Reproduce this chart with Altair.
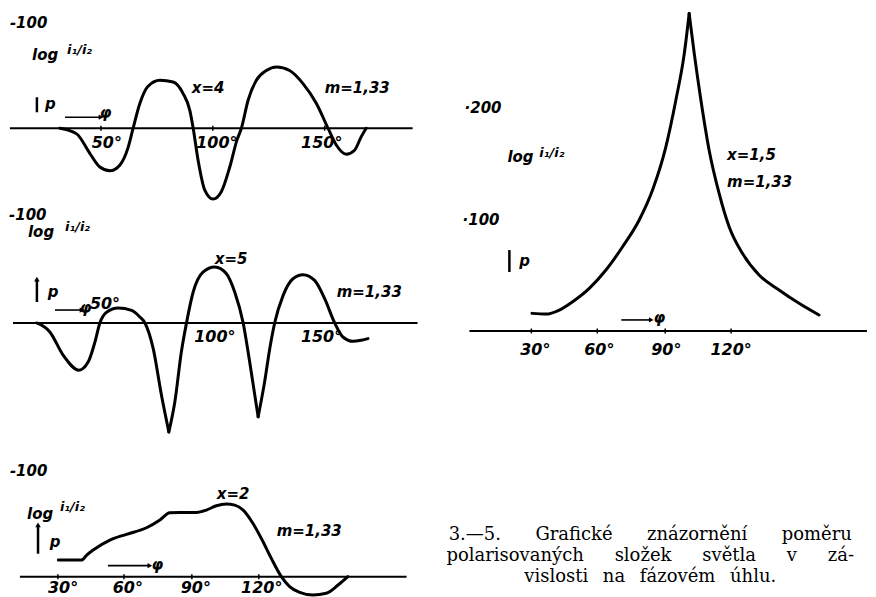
import altair as alt
import pandas as pd

SANS = "DejaVu Sans"
SERIF = "DejaVu Serif"

# ---------------- curve data (phase angle in degrees, log i1/i2 scaled) -------------
# x = 4, m = 1,33
x4_deg = [31.3, 38.8, 44.7, 49.2, 53.7, 58.2, 61.9, 64.1, 67.1, 70.8, 76.1, 82.0, 86.5,
          89.5, 91.0, 93.2, 96.2, 99.9, 103.6, 107.4, 110.6, 112.6, 115.6, 119.3, 123.8,
          128.3, 134.2, 140.2, 146.2, 151.4, 155.1, 159.6, 163.3, 166.3, 168.5]
x4_val = [0, -5.4, -24, -37, -40.6, -35, -18, 0, 23.5, 40, 45.7, 44, 33,
          17, 0, -30.5, -59, -67.6, -60.6, -37, -11.4, 0, 26.7, 45.7, 55,
          58.4, 55, 42.5, 23.5, 0, -16, -24.8, -21, -8, 0]
x4_seg = [0] * 35

# x = 5, m = 1,33 (three strokes meeting at the sharp minima)
x5_deg = [20.9, 26.8, 32.8, 39.8, 44.0, 47.0, 49.2, 52.2, 57.4, 63.4, 67.1, 69.4, 73.1, 76.8, 80.1,
          80.1, 82.8, 85.7, 88.0, 91.0, 95.4, 100.7, 105.9, 109.6, 113.4, 116.3, 120.1,
          120.1, 123.0, 125.3, 127.5, 131.3, 135.7, 140.2, 145.4, 149.9, 154.4, 158.1, 162.6, 166.3, 169.3]
x5_val = [0, -8.3, -30, -43.8, -36, -17.6, 0, 10, 13.9, 11.7, 5.6, 0, -23.8, -67, -101,
          -101, -73, -26.9, 0, 28.7, 47.2, 51.9, 45.7, 28.7, 0, -36, -87,
          -87, -54.6, -23.8, 0, 25.6, 41, 44.8, 39.5, 22.5, 0, -13, -17, -16, -14.5]
x5_seg = [0] * 15 + [1] * 12 + [2] * 14

# x = 2, m = 1,33
x2_deg = [30.6, 41.0, 43.3, 46.2, 53.7, 61.1, 70.1, 76.1, 80.5, 85.0, 92.5, 96.9, 101.4,
          105.9, 109.6, 113.4, 117.8, 122.3, 126.0, 130.5, 134.2, 138.7, 144.7, 150.6, 155.9, 160.3]
x2_val = [15.7, 15.7, 20.4, 25.2, 34.6, 40, 46.2, 53.5, 60.4, 60.7, 60.7, 62.9, 67,
          68.6, 67.6, 62.9, 50.3, 33, 17.3, 0, -9.4, -14.8, -17.3, -15.7, -7.9, 0]
x2_seg = [0] * 26

# x = 1,5, m = 1,33 (two strokes meeting at the cusp)
x15_deg = [30.3, 36.6, 42.6, 48.6, 56.1, 63.6, 71.1, 78.6, 84.6, 90.6, 95.1, 98.9, 101.1,
           101.1, 103.4, 106.4, 110.1, 114.6, 119.1, 125.1, 132.6, 141.6, 150.6, 159.6]
x15_val = [15.8, 15.2, 18.8, 26.3, 38.3, 54.7, 75.6, 99.6, 126.5, 165.3, 207.2, 249, 285,
           285, 249, 207.2, 162.3, 123.5, 93.6, 69.7, 50.2, 36.8, 24.8, 14.3]
x15_seg = [0] * 13 + [1] * 11

# ---------------- tick labels ----------------
p1_ticks = [49.7, 99.8, 149.9]
p1_lab_deg = [52.3, 101.6, 148.6]
p1_lab_val = [-14.3, -14.3, -14.3]
p1_labels = ["50°", "100°", "150°"]

p2_lab_deg = [51.5, 100.7, 148.5]
p2_lab_val = [17.6, -13, -13]
p2_labels = ["50°", "100°", "150°"]

p3_ticks = [30.4, 60.0, 90.4, 120.4]
p3_lab_deg = [32.7, 61.7, 92.2, 121.7]
p3_lab_val = [-10.6, -10.6, -10.6, -10.6]
p3_labels = ["30°", "60°", "90°", "120°"]

p4_ticks = [30.0, 59.7, 90.3, 120.0]
p4_lab_deg = [31.8, 60.6, 90.8, 120.0]
p4_lab_val = [-17, -17, -17, -17]
p4_labels = ["30°", "60°", "90°", "120°"]

# ---------------- annotations ----------------
p1_notes = ["-100", "log", "x=4", "m=1,33", "p"]
p1_note_deg = [8.9, 18.8, 90.4, 149.9, 24.6]
p1_note_val = [100, 69.5, 38, 38, 22.9]

p2_notes = ["-100", "log", "x=5", "m=1,33", "p"]
p2_note_deg = [8.5, 17.0, 100.7, 155.3, 25.9]
p2_note_val = [100, 84.3, 59.3, 28.7, 28.7]

p3_notes = ["-100", "log", "x=2", "m=1,33", "p"]
p3_note_deg = [8.9, 16.6, 101.6, 128.4, 26.8]
p3_note_val = [100, 59.4, 78.3, 43.4, 33]

p4_notes = ["·200", "·100", "log", "x=1,5", "m=1,33", "p"]
p4_note_deg = [-0.1, -1.0, 19.2, 118.2, 118.2, 24.6]
p4_note_val = [200, 99.6, 156, 157.8, 133.6, 62.8]

ratio = "i₁/i₂"
p1_ratio = (34.5, 74.3)
p2_ratio = (33.6, 88.9)
p3_ratio = (31.3, 66)
p4_ratio = (33.6, 159.6)

G1 = " \u2003\u2002\u200a"
G2 = " \u2003\u2009\u2009"
G3 = " \u2002"
caption = ["3.—5." + G1 + "Grafické" + G1 + "znázornění" + G1 + "poměru",
           "polarisovaných" + G2 + "složek" + G2 + "světla" + G2 + "v" + G2 + "zá-",
           "vislosti" + G3 + "na" + G3 + "fázovém" + G3 + "úhlu."]


def panel(deg, val, seg, xdom, ydom, w, h, base, ticks, tick_half,
          lab_deg, lab_val, labels, notes, note_deg, note_val, ratio_pos,
          bar, arrow, phi_pos, head, title=None):
    sx = alt.Scale(domain=xdom, nice=False, zero=False)
    sy = alt.Scale(domain=ydom, nice=False, zero=False)

    def X(f="deg"):
        return alt.X(f"{f}:Q", scale=sx, axis=None)

    def Y(f="val"):
        return alt.Y(f"{f}:Q", scale=sy, axis=None)

    txt = dict(font=SANS, fontStyle="italic", fontWeight="bold", color="black")

    curve = pd.DataFrame({"deg": deg, "val": val, "seg": seg, "i": list(range(len(deg)))})
    layers = [
        alt.Chart(pd.DataFrame({"deg": [base[0]], "deg2": [base[1]], "val": [0]}))
        .mark_rule(strokeWidth=2, color="black")
        .encode(x=X(), x2=alt.X2("deg2:Q"), y=Y()),
        alt.Chart(curve)
        .mark_line(interpolate="monotone", strokeWidth=3, color="black",
                   strokeCap="round", strokeJoin="round")
        .encode(x=X(), y=Y(), detail="seg:N", order="i:Q"),
        alt.Chart(pd.DataFrame({"deg": lab_deg, "val": lab_val, "t": labels}))
        .mark_text(fontSize=16, align="center", baseline="middle", **txt)
        .encode(x=X(), y=Y(), text="t:N"),
        alt.Chart(pd.DataFrame({"deg": note_deg, "val": note_val, "t": notes}))
        .mark_text(fontSize=15, align="left", baseline="middle", **txt)
        .encode(x=X(), y=Y(), text="t:N"),
        alt.Chart(pd.DataFrame({"deg": [ratio_pos[0]], "val": [ratio_pos[1]], "t": [ratio]}))
        .mark_text(fontSize=13, align="left", baseline="middle", **txt)
        .encode(x=X(), y=Y(), text="t:N"),
        alt.Chart(pd.DataFrame({"deg": [bar[0]], "lo": [bar[1]], "hi": [bar[2]]}))
        .mark_rule(strokeWidth=2.5, color="black")
        .encode(x=X(), y=Y("lo"), y2=alt.Y2("hi:Q")),
        alt.Chart(pd.DataFrame({"deg": [arrow[0]], "deg2": [arrow[1]], "val": [arrow[2]]}))
        .mark_rule(strokeWidth=1.6, color="black")
        .encode(x=X(), x2=alt.X2("deg2:Q"), y=Y()),
        alt.Chart(pd.DataFrame({"deg": [arrow[1]], "val": [arrow[2]]}))
        .mark_point(shape="triangle-right", filled=True, size=28, color="black", opacity=1)
        .encode(x=X(), y=Y()),
        alt.Chart(pd.DataFrame({"deg": [phi_pos[0]], "val": [phi_pos[1]], "t": ["φ"]}))
        .mark_text(fontSize=15, align="center", baseline="middle", **txt)
        .encode(x=X(), y=Y(), text="t:N"),
    ]
    if ticks:
        layers.append(
            alt.Chart(pd.DataFrame({"deg": ticks, "lo": [-tick_half] * len(ticks),
                                    "hi": [tick_half] * len(ticks)}))
            .mark_rule(strokeWidth=1.5, color="black")
            .encode(x=X(), y=Y("lo"), y2=alt.Y2("hi:Q")))
    if head:
        layers.append(
            alt.Chart(pd.DataFrame({"deg": [bar[0]], "val": [bar[2]]}))
            .mark_point(shape="triangle-up", filled=True, size=30, color="black", opacity=1)
            .encode(x=X(), y=Y()))
    props = dict(width=w, height=h)
    if title is not None:
        props["title"] = title
    return alt.layer(*layers).properties(**props)


LEFT_X = [8.05, 199.55]

p1 = panel(x4_deg, x4_val, x4_seg, LEFT_X, [-76.19, 114.29], 428, 200, (8.9, 189.3),
           p1_ticks, 2.4, p1_lab_deg, p1_lab_val, p1_labels,
           p1_notes, p1_note_deg, p1_note_val, p1_ratio,
           (21.0, 15.2, 29.5), (33.6, 49.7, 10.5), (51.8, 14.3), False)

p2 = panel(x5_deg, x5_val, x5_seg, LEFT_X, [-110.19, 104.63], 428, 232, (10.3, 191.5),
           [], 0, p2_lab_deg, p2_lab_val, p2_labels,
           p2_notes, p2_note_deg, p2_note_val, p2_ratio,
           (21.0, 19.4, 40.7), (29.1, 41.2, 12), (42.8, 13.9), True)

p3 = panel(x2_deg, x2_val, x2_seg, LEFT_X, [-18.87, 127.36], 428, 155, (13.4, 186.6),
           p3_ticks, 2.4, p3_lab_deg, p3_lab_val, p3_labels,
           p3_notes, p3_note_deg, p3_note_val, p3_ratio,
           (21.5, 21.7, 49), (52.8, 71.6, 10.4), (75.0, 11.3), True)

cap_title = alt.TitleParams(text=caption, orient="bottom", anchor="middle", offset=168, dx=-3,
                            font=SERIF, fontSize=18, fontWeight="normal",
                            lineHeight=21, color="black")

p4 = panel(x15_deg, x15_val, x15_seg, [-11.39, 181.23], [-19.73, 289.69], 428, 345, (2.1, 181.2),
           p4_ticks, 2.2, p4_lab_deg, p4_lab_val, p4_labels,
           p4_notes, p4_note_deg, p4_note_val, p4_ratio,
           (20.1, 52.9, 72.6), (70.5, 84.0, 9.9), (87.7, 11.7), False, title=cap_title)

left = alt.vconcat(p1, p2, p3, spacing=0)
chart = alt.hconcat(left, p4, spacing=4).properties(padding=0).configure_view(stroke=None)

chart.save("out.html", embed_options={"renderer": "svg", "actions": False})
